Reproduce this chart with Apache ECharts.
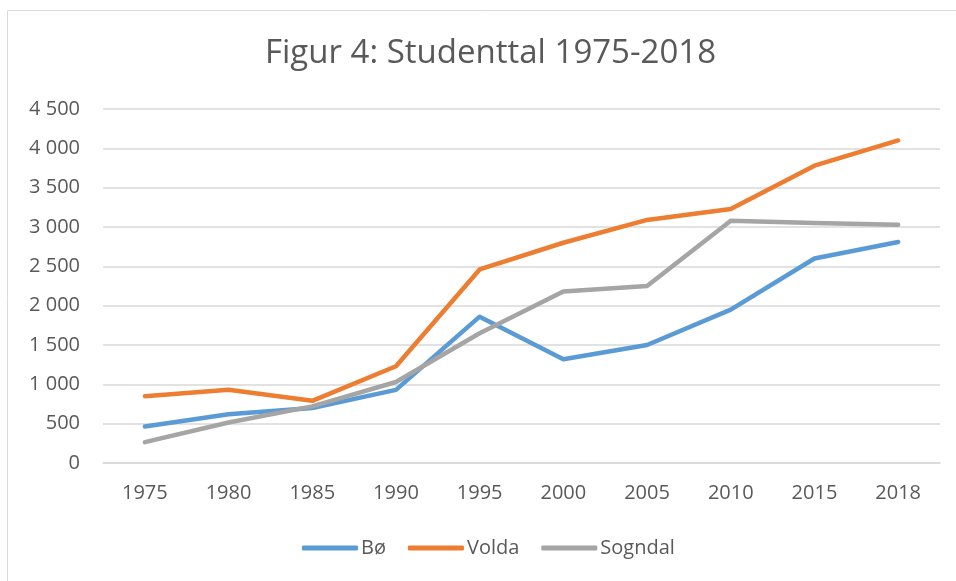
<html>
<head>
    <meta charset="utf-8">
</head>
<body>
    <style>
        html,
        body {
            width: 100%;
            height: 100%;
            margin: 0;
            background: #fff;
        }
    </style>
    <div id="main" style="width: 956px;height:581px;"></div>
    <script src="https://cdn.jsdelivr.net/npm/echarts@6/dist/echarts.min.js"></script>
    <script>
        var years = ['1975', '1980', '1985', '1990', '1995', '2000', '2005', '2010', '2015', '2018'];
        var bo = [465, 620, 700, 930, 1860, 1320, 1500, 1950, 2600, 2810];
        var volda = [850, 930, 790, 1230, 2460, 2800, 3090, 3230, 3780, 4100];
        var sogndal = [265, 515, 720, 1030, 1650, 2180, 2250, 3080, 3050, 3030];

        var font = 'Open Sans';
        var textColor = '#595959';

        function fmt(v) {
            return String(v).replace(/\B(?=(\d{3})+(?!\d))/g, ' ');
        }

        function line(name, data, color) {
            return {
                name: name,
                type: 'line',
                data: data,
                symbol: 'none',
                lineStyle: { width: 4.5, color: color, cap: 'round', join: 'round' },
                itemStyle: { color: color }
            };
        }

        var chart = echarts.init(document.getElementById('main'));
        var option = {
            animation: false,
            color: ['#5B9BD5', '#ED7D31', '#A5A5A5'],
            graphic: [{
                type: 'rect',
                shape: { x: 7.5, y: 10.5, width: 980, height: 600 },
                style: { fill: null, stroke: '#D9D9D9', lineWidth: 1 },
                silent: true
            }],
            title: {
                text: 'Figur 4: Studenttal 1975-2018',
                left: 260,
                top: 32,
                textStyle: { fontFamily: font, fontSize: 33, fontWeight: 'normal', color: textColor }
            },
            legend: {
                bottom: 18,
                left: 297,
                itemWidth: 56,
                itemHeight: 5,
                itemGap: 22,
                icon: 'roundRect',
                textStyle: { fontFamily: font, fontSize: 20, color: textColor, padding: [0, 0, 0, -2] },
                data: ['Bø', 'Volda', 'Sogndal']
            },
            grid: {
                left: 103,
                right: 16,
                top: 109,
                bottom: 118
            },
            xAxis: {
                type: 'category',
                data: years,
                boundaryGap: true,
                axisTick: { show: false },
                axisLine: { lineStyle: { color: '#D9D9D9', width: 1.5 } },
                axisLabel: { fontFamily: font, fontSize: 20, color: textColor, margin: 20 }
            },
            yAxis: {
                type: 'value',
                min: 0,
                max: 4500,
                interval: 500,
                axisLine: { show: false },
                axisTick: { show: false },
                splitLine: { lineStyle: { color: '#D9D9D9', width: 1.5 } },
                axisLabel: {
                    fontFamily: font, fontSize: 20, color: textColor, margin: 23,
                    formatter: fmt
                }
            },
            series: [
                line('Bø', bo, '#5B9BD5'),
                line('Volda', volda, '#ED7D31'),
                line('Sogndal', sogndal, '#A5A5A5')
            ]
        };
        chart.setOption(option);
    </script>
</body>
</html>
